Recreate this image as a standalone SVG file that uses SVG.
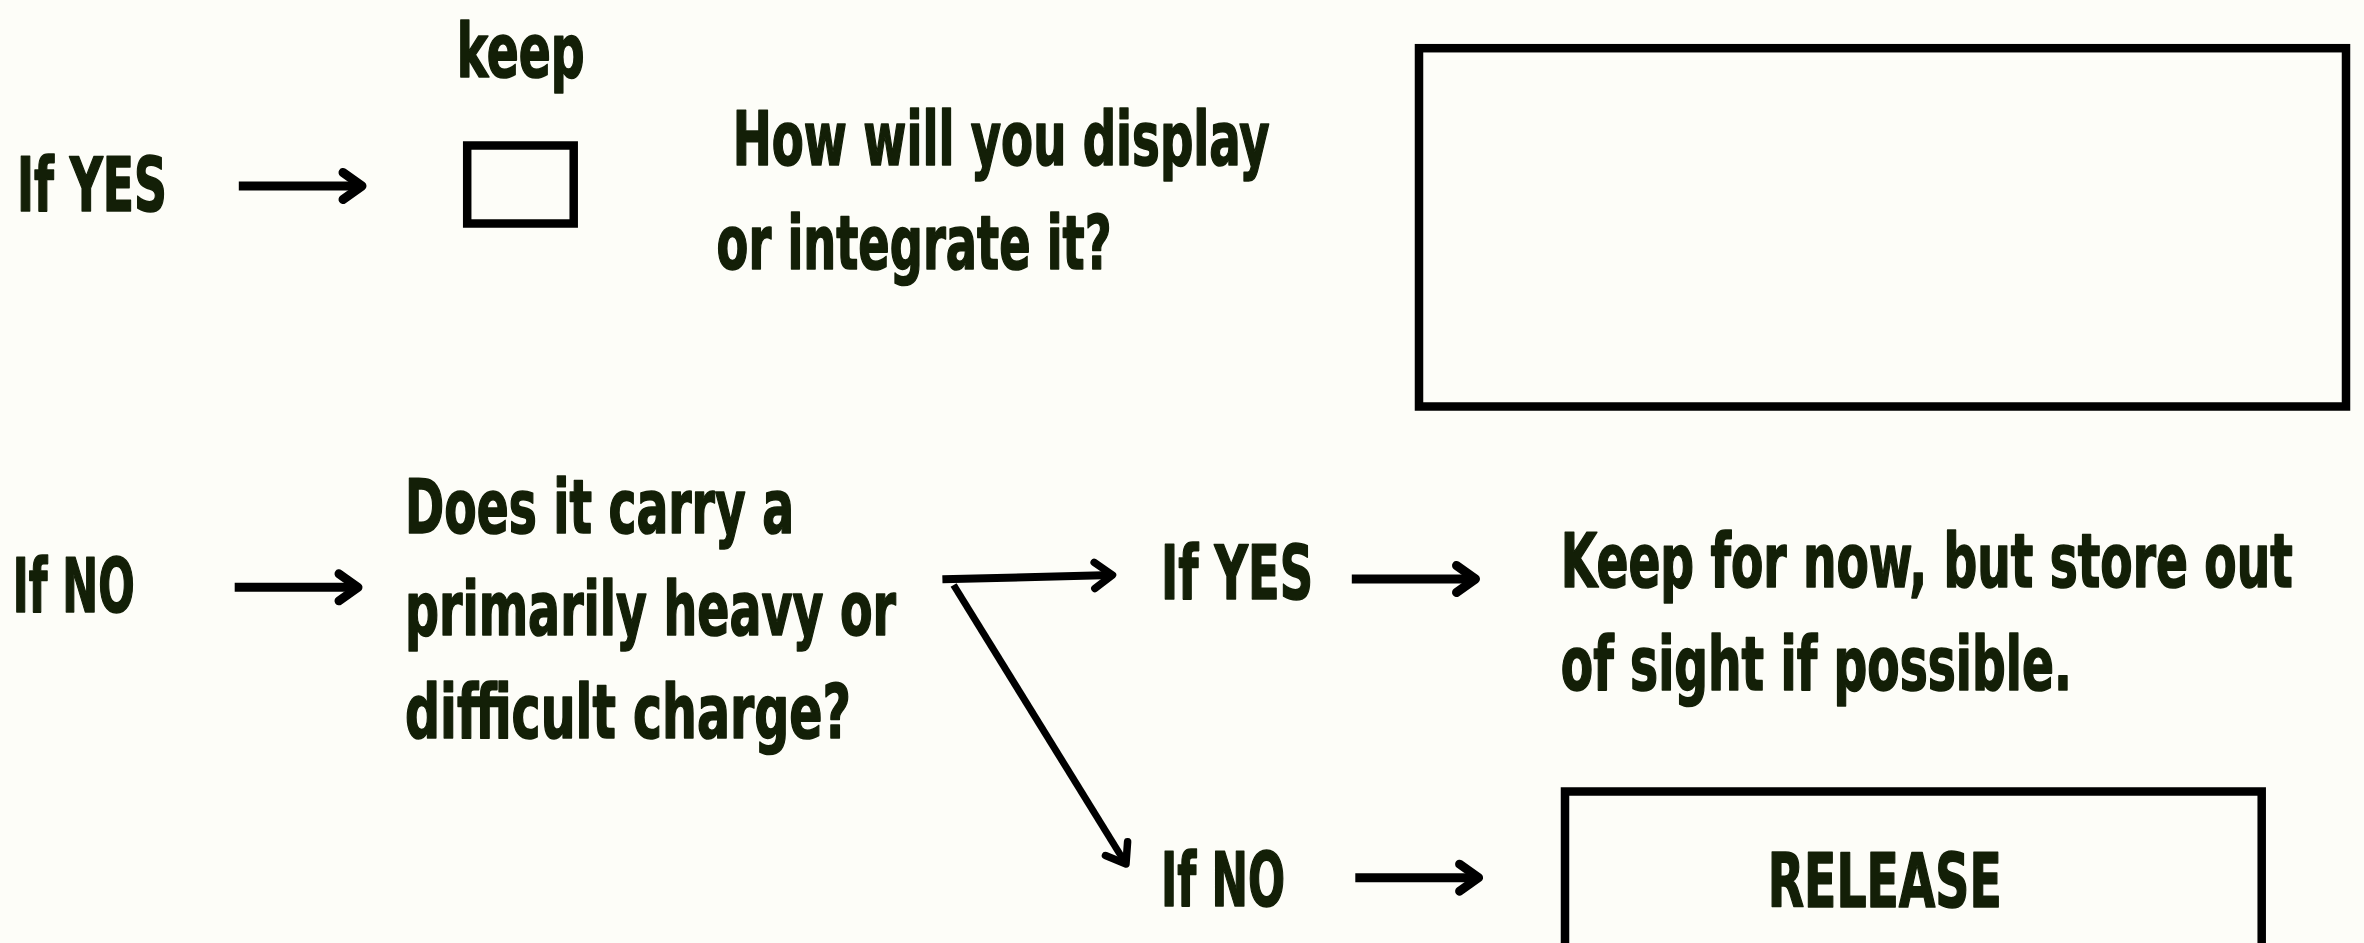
<svg xmlns="http://www.w3.org/2000/svg" width="2364" height="943" viewBox="0 0 2364 943">
<defs>
<style>
.t{font-family:"Liberation Sans Narrow","DejaVu Sans Condensed","Liberation Sans",sans-serif;font-weight:bold;font-size:74px;fill:#131f07;stroke:#131f07;stroke-width:1.6;stroke-linejoin:round}
.box{fill:#fdfdf8;stroke:#000;stroke-width:8.5}
.ln{fill:none;stroke:#000;stroke-linecap:butt}
.w9{stroke-width:9}
.w8{stroke-width:8}
.w7{stroke-width:7}
</style>
<marker id="ah9" markerUnits="userSpaceOnUse" orient="auto" markerWidth="60" markerHeight="60" viewBox="-30 -30 60 60" refX="0" refY="0" overflow="visible">
<path d="M-19,-13.5 L0,0 L-19,13.5" fill="none" stroke="#000" stroke-width="9" stroke-linecap="round" stroke-linejoin="round"/>
</marker>
<marker id="ah7" markerUnits="userSpaceOnUse" orient="auto" markerWidth="60" markerHeight="60" viewBox="-30 -30 60 60" refX="0" refY="0" overflow="visible">
<path d="M-18,-13 L0,0 L-18,13" fill="none" stroke="#000" stroke-width="7.5" stroke-linecap="round" stroke-linejoin="round"/>
</marker>
</defs>
<rect x="0" y="0" width="2364" height="943" fill="#fdfdf8"/>

<g id="if-yes-1"><text class="t" x="17" y="210.7" textLength="150" lengthAdjust="spacingAndGlyphs">If YES</text></g>
<g id="keep-label"><text class="t" x="456.7" y="76.7" textLength="128" lengthAdjust="spacingAndGlyphs">keep</text></g>
<g id="keep-box"><rect class="box" x="467.2" y="145.5" width="106.5" height="78"/></g>
<g id="display-question">
<text class="t" x="732.7" y="165" textLength="537" lengthAdjust="spacingAndGlyphs">How will you display</text>
<text class="t" x="716.6" y="269.3" textLength="395" lengthAdjust="spacingAndGlyphs">or integrate it?</text>
</g>
<g id="answer-box"><rect class="box" x="1419" y="48.2" width="927" height="358.3"/></g>

<g id="if-no-1"><text class="t" x="12.8" y="611.7" textLength="122" lengthAdjust="spacingAndGlyphs">If NO</text></g>
<g id="charge-question">
<text class="t" x="405" y="533.3" textLength="389" lengthAdjust="spacingAndGlyphs">Does it carry a</text>
<text class="t" x="405" y="635" textLength="491" lengthAdjust="spacingAndGlyphs">primarily heavy or</text>
<text class="t" x="405" y="738.3" textLength="446" lengthAdjust="spacingAndGlyphs">difficult charge?</text>
</g>
<g id="if-yes-2"><text class="t" x="1161" y="599" textLength="152" lengthAdjust="spacingAndGlyphs">If YES</text></g>
<g id="if-no-2"><text class="t" x="1161" y="906" textLength="124" lengthAdjust="spacingAndGlyphs">If NO</text></g>
<g id="store-out">
<text class="t" x="1560.8" y="586.7" textLength="732" lengthAdjust="spacingAndGlyphs">Keep for now, but store out</text>
<text class="t" x="1560.8" y="690" textLength="511" lengthAdjust="spacingAndGlyphs">of sight if possible.</text>
</g>
<g id="release">
<rect class="box" x="1565" y="791.5" width="696.7" height="220"/>
<text class="t" x="1767.7" y="906.7" textLength="234" lengthAdjust="spacingAndGlyphs">RELEASE</text>
</g>

<g id="connectors">
<line class="ln w9" x1="238.8" y1="186" x2="362" y2="186" marker-end="url(#ah9)"/>
<line class="ln w9" x1="234.7" y1="587.3" x2="358" y2="587.3" marker-end="url(#ah9)"/>
<line class="ln w8" x1="942.4" y1="579.3" x2="1112.5" y2="575" marker-end="url(#ah7)"/>
<line class="ln w7" x1="953.6" y1="585" x2="1126" y2="864" marker-end="url(#ah7)"/>
<line class="ln w9" x1="1351.8" y1="579" x2="1475.5" y2="579" marker-end="url(#ah9)"/>
<line class="ln w9" x1="1355.3" y1="877.7" x2="1478.6" y2="877.7" marker-end="url(#ah9)"/>
</g>
</svg>
